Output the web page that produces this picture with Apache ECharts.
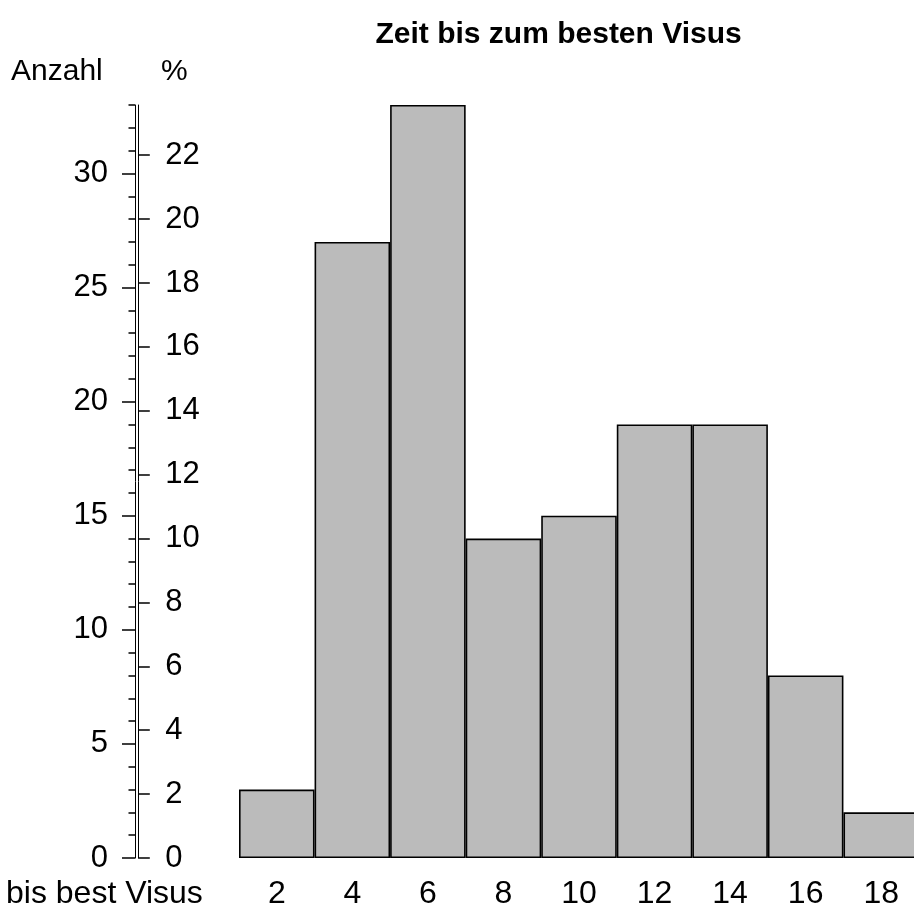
<!DOCTYPE html>
<html>
<head>
<meta charset="utf-8">
<script src="https://cdn.jsdelivr.net/npm/echarts@6/dist/echarts.min.js"></script>
<style>
html,body{margin:0;padding:0;background:#fff;}
#chart{width:914px;height:906px;}
</style>
</head>
<body>
<div id="chart"></div>
<script>
const categories = ['2', '4', '6', '8', '10', '12', '14', '16', '18'];
const counts = [3, 27, 33, 14, 15, 19, 19, 8, 2];
const countTicks = [0, 5, 10, 15, 20, 25, 30];
const percentTicks = [0, 2, 4, 6, 8, 10, 12, 14, 16, 18, 20, 22];
const countMax = 33;

const total = counts.reduce((a, b) => a + b, 0);
const percentMax = countMax / total * 100;

const FONT = '"Liberation Sans", Arial, Helvetica, sans-serif';
const FS = 31;

const chart = echarts.init(document.getElementById('chart'), null, {renderer: 'canvas'});
chart.setOption({
  animation: false,
  backgroundColor: '#ffffff',
  grid: {left: 239, top: 105, width: 680, height: 753, containLabel: false, outerBoundsMode: 'none'},
  xAxis: {
    type: 'category',
    data: categories,
    axisLine: {show: false},
    axisTick: {show: false},
    axisLabel: {fontFamily: FONT, fontSize: 32, color: '#000', margin: 20}
  },
  yAxis: [
    {
      type: 'value', position: 'left', offset: 104,
      min: 0, max: countMax, interval: 5,
      splitLine: {show: false},
      axisLine: {show: true, lineStyle: {color: '#000', width: 1}},
      axisTick: {show: true, length: 13, lineStyle: {color: '#000', width: 1.5}, customValues: countTicks},
      axisLabel: {show: true, fontFamily: FONT, fontSize: FS, color: '#000', margin: 27, padding: [0, 0, 7, 0], customValues: countTicks}
    },
    {
      type: 'value', position: 'left', offset: 104,
      min: 0, max: countMax, interval: 1,
      splitLine: {show: false},
      axisLine: {show: false},
      axisTick: {show: true, length: 6.5, lineStyle: {color: '#000', width: 1.5}},
      axisLabel: {show: false}
    },
    {
      type: 'value', position: 'left', offset: 100.7,
      min: 0, max: percentMax, interval: 2,
      splitLine: {show: false},
      axisLine: {show: true, lineStyle: {color: '#000', width: 1}},
      axisTick: {show: true, inside: true, length: 11.5, lineStyle: {color: '#000', width: 1.5}, customValues: percentTicks},
      axisLabel: {show: true, inside: true, fontFamily: FONT, fontSize: FS, color: '#000', margin: 27, padding: [0, 0, 7, 0], customValues: percentTicks}
    }
  ],
  series: [{
    type: 'bar',
    data: counts,
    yAxisIndex: 0,
    barCategoryGap: '0%',
    itemStyle: {color: '#bbbbbb', borderColor: '#000', borderWidth: 1.6}
  }],
  graphic: [
    {type: 'text', left: 559.5 - 184, top: 20, style: {text: 'Zeit bis zum besten Visus', font: 'bold 30px ' + FONT, fill: '#000'}},
    {type: 'text', left: 11, top: 57, style: {text: 'Anzahl', font: '30px ' + FONT, fill: '#000'}},
    {type: 'text', left: 161, top: 57, style: {text: '%', font: '30px ' + FONT, fill: '#000'}},
    {type: 'text', left: 6, top: 878, style: {text: 'bis best Visus', font: '32px ' + FONT, fill: '#000'}}
  ]
});
</script>
</body>
</html>
